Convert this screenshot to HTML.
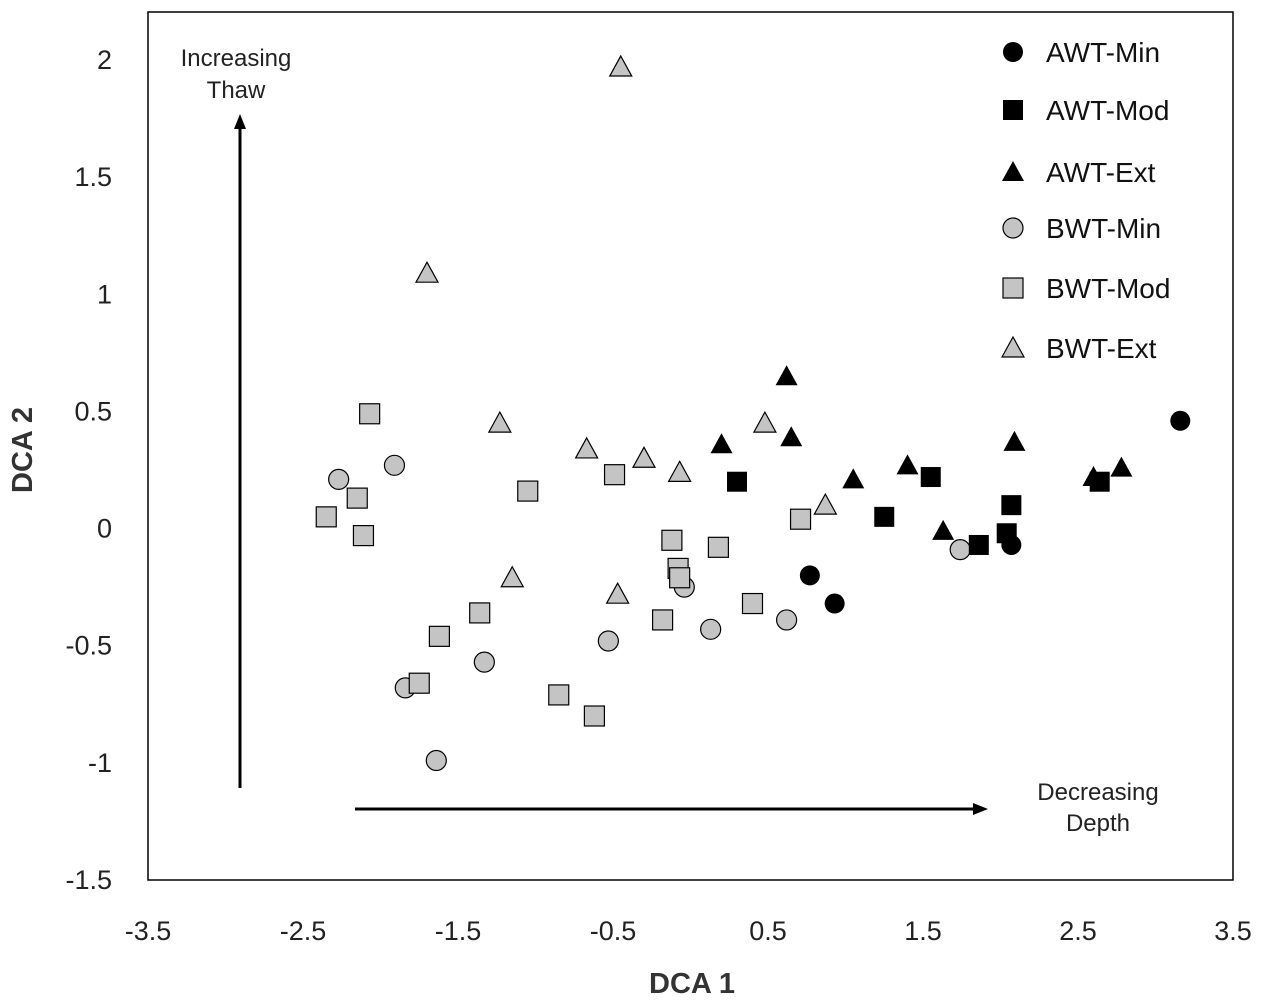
<!DOCTYPE html>
<html><head><meta charset="utf-8"><style>
html,body{margin:0;padding:0;background:#fff;}
svg{display:block;font-family:"Liberation Sans",Arial,sans-serif;}
</style></head><body>
<svg id="chart" width="1267" height="1001"></svg>
<script>
const xTicks=[-3.5,-2.5,-1.5,-0.5,0.5,1.5,2.5,3.5];
const yTicks=[2,1.5,1,0.5,0,-0.5,-1,-1.5];
const awtMinX=[3.16,2.07,0.77,0.93];
const awtMinY=[0.46,-0.07,-0.20,-0.32];
const awtModX=[0.30,1.25,1.55,1.86,2.04,2.07,2.64];
const awtModY=[0.20,0.05,0.22,-0.07,-0.02,0.10,0.20];
const awtExtX=[0.62,0.20,0.65,1.05,1.40,1.63,2.09,2.60,2.78];
const awtExtY=[0.65,0.36,0.39,0.21,0.27,-0.01,0.37,0.22,0.26];
const bwtMinX=[-2.27,-1.91,-1.84,-1.64,-1.33,-0.53,-0.04,0.13,0.62,1.74];
const bwtMinY=[0.21,0.27,-0.68,-0.99,-0.57,-0.48,-0.25,-0.43,-0.39,-0.09];
const bwtModX=[-2.07,-2.35,-2.15,-2.11,-1.05,-1.62,-1.75,-1.36,-0.85,-0.62,-0.49,-0.12,-0.08,-0.07,-0.18,0.18,0.40,0.71];
const bwtModY=[0.49,0.05,0.13,-0.03,0.16,-0.46,-0.66,-0.36,-0.71,-0.80,0.23,-0.05,-0.17,-0.21,-0.39,-0.08,-0.32,0.04];
const bwtExtX=[-0.45,-1.70,-1.23,-0.67,-0.30,-0.07,0.48,0.87,-1.15,-0.47];
const bwtExtY=[1.97,1.09,0.45,0.34,0.30,0.24,0.45,0.10,-0.21,-0.28];

const NS='http://www.w3.org/2000/svg';
const svg=document.getElementById('chart');
const X0=148,X1=1233,Y0=880,Y1=60;
function sx(v){return X0+(v+3.5)/7*(X1-X0);}
function sy(v){return Y0-(v+1.5)/3.5*(Y0-Y1);}
function mk(tag,attrs,parent){const e=document.createElementNS(NS,tag);for(const k in attrs)e.setAttribute(k,attrs[k]);(parent||svg).appendChild(e);return e;}

const frame=mk('rect',{x:X0,y:12,width:X1-X0,height:Y0-12,fill:'none',stroke:'#000','stroke-width':1.5});



xTicks.forEach(t=>{
  const e=mk('text',{x:sx(t),y:940,'text-anchor':'middle','font-size':27,fill:'#222'});
  e.textContent=String(t);
  
  
});
yTicks.forEach(t=>{
  const e=mk('text',{x:112,y:sy(t)+9,'text-anchor':'end','font-size':27,fill:'#222'});
  e.textContent=String(t);
  
  
});

const xt=mk('text',{x:692,y:993,'text-anchor':'middle','font-size':29,'font-weight':'bold',fill:'#333'});
xt.textContent='DCA 1';


const yt=mk('text',{x:0,y:0,'text-anchor':'middle','font-size':29,'font-weight':'bold',fill:'#333',transform:'translate(32,450) rotate(-90)'});
yt.textContent='DCA 2';



const defs=mk('defs',{});
const m=mk('marker',{id:'ah',markerWidth:5,markerHeight:4,refX:3,refY:2,orient:'auto',markerUnits:'strokeWidth'},defs);
mk('path',{d:'M0,0 L5,2 L0,4 Z',fill:'#000'},m);
const va=mk('line',{x1:240,y1:788,x2:240,y2:120,stroke:'#000','stroke-width':3,'marker-end':'url(#ah)'});


const ha=mk('line',{x1:355,y1:809,x2:982,y2:809,stroke:'#000','stroke-width':3,'marker-end':'url(#ah)'});


[['Increasing',236,66],['Thaw',236,98],['Decreasing',1098,800],['Depth',1098,831]].forEach(a=>{
  const e=mk('text',{x:a[1],y:a[2],'text-anchor':'middle','font-size':24,fill:'#222'});
  e.textContent=a[0];
  
  
});

function marker(shape,fill,cx,cy,g){
  const st={fill:fill,stroke:'#000','stroke-width':fill==='#000'?0:1.2};
  let e;
  if(shape==='c')e=mk('circle',Object.assign({cx:cx,cy:cy,r:10},st),g);
  else if(shape==='s')e=mk('rect',Object.assign({x:cx-10,y:cy-10,width:20,height:20},st),g);
  else e=mk('polygon',Object.assign({points:`${cx},${cy-11} ${cx+11},${cy+9} ${cx-11},${cy+9}`},st),g);
  return e;
}
const series=[
  ['AWT-Min','c','#000',awtMinX,awtMinY],
  ['AWT-Mod','s','#000',awtModX,awtModY],
  ['AWT-Ext','t','#000',awtExtX,awtExtY],
  ['BWT-Min','c','#c4c4c4',bwtMinX,bwtMinY],
  ['BWT-Mod','s','#c4c4c4',bwtModX,bwtModY],
  ['BWT-Ext','t','#c4c4c4',bwtExtX,bwtExtY]
];
[3,4,5,0,1,2].forEach(i=>{
  const s=series[i];
  const g=mk('g',{});
  
  
  s[3].forEach((v,j)=>{
    const e=marker(s[1],s[2],sx(v),sy(s[4][j]),g);
    
    
  });
});
const legY=[52,110,172,228,288,348];
series.forEach((s,i)=>{
  const g=mk('g',{});
  
  
  marker(s[1],s[2],1013,legY[i],g);
  const t=mk('text',{x:1046,y:legY[i]+10,'font-size':28,fill:'#111'},g);
  t.textContent=s[0];
});
</script>
</body></html>
